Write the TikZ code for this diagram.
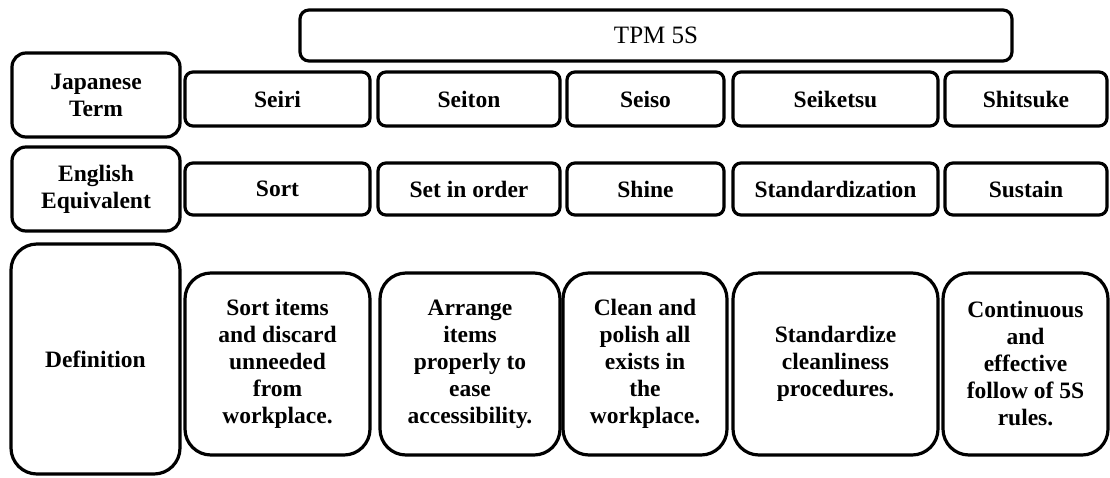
\documentclass[tikz,border=0pt]{standalone}
\usepackage{fontspec}
\setmainfont{Liberation Serif}
\begin{document}
\begin{tikzpicture}[x=1pt,y=-1pt,
  box/.style={draw=black, line width=3.2pt, rounded corners=8pt, align=center, inner sep=0pt,
    font=\bfseries\fontsize{23.5}{27}\selectfont},
  headbox/.style={box, rounded corners=14pt},
  defbox/.style={box, rounded corners=26pt},
  titlebox/.style={box, rounded corners=9pt, font=\fontsize{25}{27}\selectfont}]
\useasboundingbox (0,0) rectangle (1110,477);
% title
\node[titlebox, minimum width=712pt, minimum height=51pt] (tpm) at (656,35.5) {TPM 5S};
% row headers
\node[headbox, minimum width=168pt, minimum height=84pt] (jt) at (96,95) {Japanese\\Term};
\node[headbox, minimum width=168pt, minimum height=84pt] (ee) at (96,189) {English\\Equivalent};
\node[defbox, minimum width=169pt, minimum height=230pt] (df) at (95.5,359) {Definition};
% row 1
\node[box, minimum width=185pt, minimum height=54pt] (j1) at (277.5,99) {Seiri};
\node[box, minimum width=182pt, minimum height=54pt] (j2) at (469,99) {Seiton};
\node[box, minimum width=157pt, minimum height=54pt] (j3) at (645.5,99) {Seiso};
\node[box, minimum width=205pt, minimum height=54pt] (j4) at (835.5,99) {Seiketsu};
\node[box, minimum width=162pt, minimum height=54pt] (j5) at (1026,99) {Shitsuke};
% row 2
\node[box, minimum width=185pt, minimum height=52pt] (e1) at (277.5,189) {Sort};
\node[box, minimum width=182pt, minimum height=52pt] (e2) at (469,189) {Set in order};
\node[box, minimum width=157pt, minimum height=52pt] (e3) at (645.5,189) {Shine};
\node[box, minimum width=205pt, minimum height=52pt] (e4) at (835.5,189) {Standardization};
\node[box, minimum width=162pt, minimum height=52pt] (e5) at (1026,189) {Sustain};
% row 3
\node[defbox, minimum width=185pt, minimum height=182pt] (d1) at (277.5,364) {Sort items\\and discard\\unneeded\\from\\workplace.};
\node[defbox, minimum width=180pt, minimum height=182pt] (d2) at (470,364) {Arrange\\items\\properly to\\ease\\accessibility.};
\node[defbox, minimum width=164pt, minimum height=182pt] (d3) at (645,364) {Clean and\\polish all\\exists in\\the\\workplace.};
\node[defbox, minimum width=205pt, minimum height=182pt] (d4) at (835.5,364) {Standardize\\cleanliness\\procedures.};
\node[defbox, minimum width=165pt, minimum height=182pt] (d5) at (1025.5,364) {Continuous\\and\\effective\\follow of 5S\\rules.};
\end{tikzpicture}
\end{document}
